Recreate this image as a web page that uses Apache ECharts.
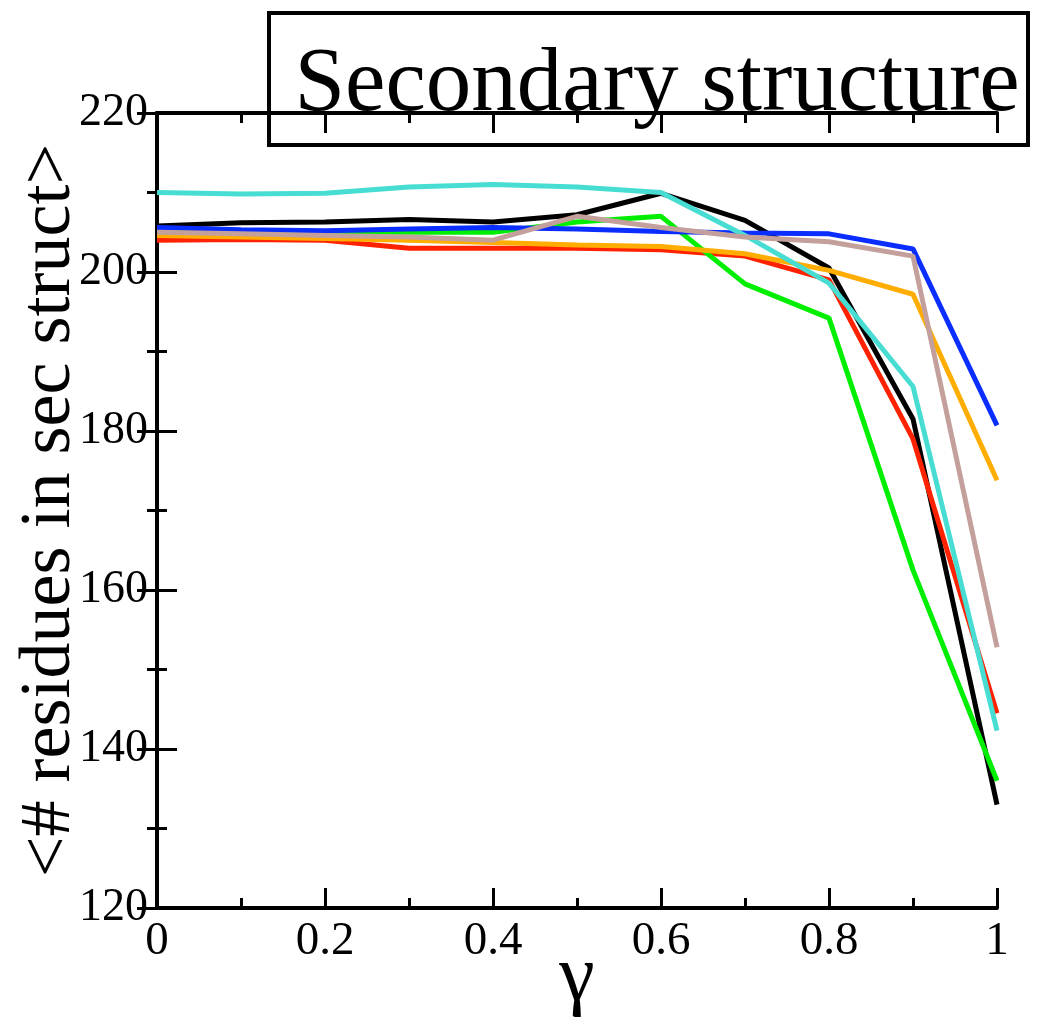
<!DOCTYPE html>
<html><head><meta charset="utf-8">
<script src="https://cdn.jsdelivr.net/npm/echarts@6/dist/echarts.min.js"></script>
<style>html,body{margin:0;padding:0;background:#fff}#c{width:1042px;height:1023px}</style>
</head><body><div id="c"></div>
<script>
var gamma = [0, 0.1, 0.2, 0.3, 0.4, 0.5, 0.6, 0.7, 0.8, 0.9, 1.0];
var blackS = [205.8, 206.2, 206.3, 206.6, 206.3, 207.2, 209.9, 206.5, 200.5, 181.5, 133.0];
var redS   = [204.0, 204.1, 204.0, 203.0, 203.0, 203.0, 202.8, 202.0, 199.0, 179.0, 144.5];
var greenS = [205.0, 205.0, 205.0, 205.0, 205.0, 206.3, 207.0, 198.5, 194.2, 162.5, 136.0];
var blueS  = [205.6, 205.3, 205.2, 205.4, 205.6, 205.4, 205.1, 204.9, 204.8, 202.9, 180.7];
var orangeS= [204.6, 204.4, 204.2, 204.0, 203.7, 203.4, 203.2, 202.3, 200.2, 197.2, 173.8];
var cyanS  = [210.0, 209.8, 209.9, 210.7, 211.0, 210.7, 210.0, 204.6, 198.6, 185.6, 142.3];
var rosyS  = [205.0, 204.8, 204.6, 204.4, 204.0, 207.0, 205.6, 204.4, 203.8, 202.0, 152.8];
var yTicks = [120, 140, 160, 180, 200, 220];
var titleText = 'Secondary structure';
var xName = 'γ';
var yName = '<# residues in sec struct>';

var colors = ['#000000', '#ff2200', '#00ee00', '#0a2eff', '#ffad00', '#48ddd2', '#c4a09c'];
var seriesData = [blackS, redS, greenS, blueS, orangeS, cyanS, rosyS];
function pts(arr){ return gamma.map(function(g,i){ return [g, arr[i]]; }); }

var font = '"Liberation Serif", "DejaVu Serif", serif';
var axisLine = {show: true, lineStyle: {color: '#000', width: 4}};
var tick = {show: true, inside: true, length: 20, lineStyle: {color: '#000', width: 3}};
var minor = {show: true, splitNumber: 2, length: 10, lineStyle: {color: '#000', width: 3}};

var chart = echarts.init(document.getElementById('c'), null, {renderer: 'canvas'});
chart.setOption({
  backgroundColor: '#fff',
  animation: false,
  grid: {left: 157, right: 45, top: 113, bottom: 115, containLabel: false, outerBoundsMode: 'none'},
  xAxis: [{
    type: 'value', min: 0, max: 1, interval: 0.2, position: 'bottom',
    axisLine: axisLine, axisTick: tick, minorTick: minor, splitLine: {show: false},
    axisLabel: {color: '#000', fontFamily: font, fontSize: 47, margin: 10},
    name: xName, nameLocation: 'middle', nameGap: 31, nameMoveOverlap: false,
    nameTextStyle: {color: '#000', fontFamily: font, fontSize: 80}
  }, {
    type: 'value', min: 0, max: 1, interval: 0.2, position: 'top',
    axisLine: axisLine, axisTick: tick, minorTick: minor, splitLine: {show: false},
    axisLabel: {show: false}
  }],
  yAxis: [{
    type: 'value', min: yTicks[0], max: yTicks[yTicks.length-1], interval: 20, position: 'left',
    axisLine: axisLine, axisTick: tick, minorTick: minor, splitLine: {show: false},
    axisLabel: {color: '#000', fontFamily: font, fontSize: 46, margin: 9},
    name: yName, nameLocation: 'middle', nameGap: 71, nameRotate: 90, nameMoveOverlap: false,
    nameTextStyle: {color: '#000', fontFamily: font, fontSize: 72}
  }, {
    type: 'value', min: yTicks[0], max: yTicks[yTicks.length-1], interval: 20, position: 'right',
    axisLine: axisLine, axisTick: tick, minorTick: minor, splitLine: {show: false},
    axisLabel: {show: false}
  }],
  series: seriesData.map(function(arr, i){
    return {type: 'line', data: pts(arr), showSymbol: false, symbol: 'none',
      lineStyle: {color: colors[i], width: 5}, itemStyle: {color: colors[i]}, z: 2 + i};
  }),
  graphic: [{
    type: 'group', z: 100,
    children: [{
      type: 'rect', shape: {x: 269, y: 13, width: 759, height: 132},
      style: {fill: '#fff', stroke: '#000', lineWidth: 4}
    }, {
      type: 'text', x: 657, y: 86,
      style: {text: titleText, fill: '#000', font: '91px ' + font, textAlign: 'center', textVerticalAlign: 'middle'}
    }]
  }]
});
</script></body></html>
